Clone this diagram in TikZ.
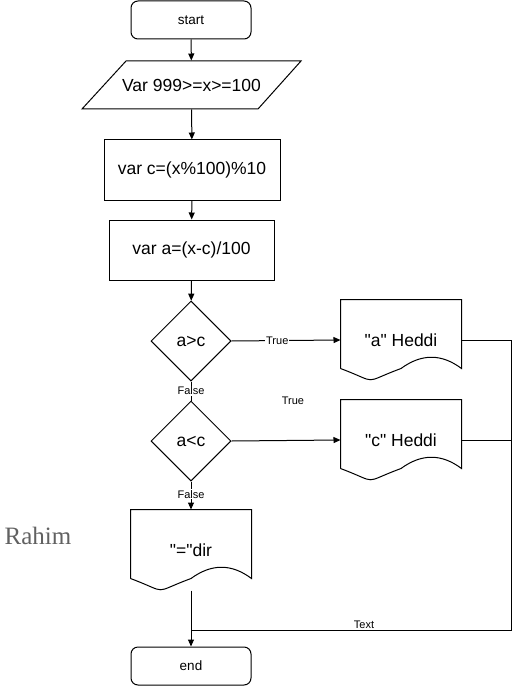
\documentclass[tikz,border=0pt]{standalone}
\usepackage{fontspec}
\setmainfont{Liberation Sans}[Ligatures=TeXOff]
\newfontfamily\rahimfont{Liberation Serif}
\usetikzlibrary{arrows.meta,shapes.geometric}
\begin{document}
\begin{tikzpicture}[x=1pt,y=-1pt,
  line width=1pt,
  arr/.style={-{Triangle[length=7pt,width=6pt]}},
  term/.style={draw,rounded corners=7pt,minimum width=120pt,minimum height=38pt,inner sep=0pt,font=\fontsize{13.5}{15}\selectfont},
  proc/.style={draw,minimum height=60pt,inner sep=0pt,font=\fontsize{17.5}{19}\selectfont},
  dec/.style={draw,diamond,shape aspect=1,minimum size=80pt,inner sep=0pt,font=\fontsize{17.5}{19}\selectfont},
  docbox/.style={minimum width=120pt,minimum height=80pt,inner sep=0pt,font=\fontsize{17.5}{19}\selectfont},
  lbl/.style={fill=white,inner sep=1pt,font=\fontsize{11}{12}\selectfont}
]
\useasboundingbox (0,0) rectangle (520,687);
\newcommand\docpath[1]{%
  \draw ([yshift=12pt]#1.south west) -- (#1.north west) -- (#1.north east) -- ([yshift=12pt]#1.south east)
    .. controls ([xshift=-20pt,yshift=27pt]#1.south east) and ([xshift=-40pt,yshift=27pt]#1.south east) .. ([yshift=12pt]#1.south)
    .. controls ([xshift=20pt,yshift=-3pt]#1.south west) and ([xshift=40pt,yshift=-3pt]#1.south west) .. ([yshift=12pt]#1.south west);}

\node[term] (start) at (191,20) {start};
\node[minimum width=176pt,minimum height=48pt,inner sep=0pt,font=\fontsize{17.5}{19}\selectfont] (in) at (191.5,85) {Var 999>=x>=100};
\draw (126,61) -- (301,61) -- (258,109) -- (82,109) -- cycle;
\node[proc,minimum width=176pt] (c) at (192,170) {var c=(x\%100)\%10};
\node[proc,minimum width=165pt] (a) at (191.5,250) {var a=(x-c)/100};
\node[dec] (d1) at (191,341) {a>c};
\node[dec] (d2) at (191,441) {a<c};
\node[docbox] (ha) at (401,340) {"a" Heddi};
\node[docbox] (hc) at (401,440) {"c" Heddi};
\node[docbox] (dir) at (191,550) {"="dir};
\docpath{ha}
\docpath{hc}
\docpath{dir}
\node[term] (end) at (191,666) {end};
\coordinate (r) at (511,630);
\coordinate (j) at (191,630);

\draw[arr] (start) -- (in);
\draw[arr] (in) -- (c);
\draw[arr] (c) -- (a);
\draw[arr] (a) -- (d1);
\draw[arr] (d1.east) -- node[lbl,pos=0.42]{True} (ha.west);
\draw (d1.south) -- node[lbl]{False} (d2.north);
\draw[arr] (d2.east) -- (hc.west);
\node[lbl] (t2) at (293,401) {True};
\draw[arr] (d2.south) -- node[lbl,pos=0.45]{False} (dir.north);
\draw[arr] (dir.south) -- (end.north);
\draw (ha.east) -| (r) -- (j);
\draw (hc.east) -- (hc.east -| r);
\node[font=\fontsize{11}{12}\selectfont,inner sep=0pt] (txt) at (364,625) {Text};
\node[font=\rahimfont\fontsize{25}{27}\selectfont,text=black!62] (rahim) at (38,536) {Rahim};
\end{tikzpicture}
\end{document}
